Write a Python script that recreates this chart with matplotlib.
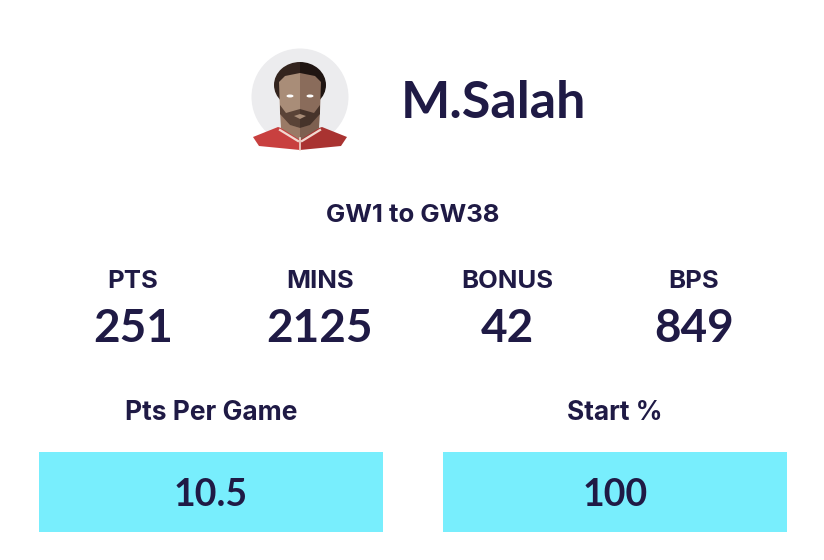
import matplotlib
matplotlib.use("Agg")
import matplotlib.pyplot as plt
from matplotlib.patches import Circle, Polygon, Rectangle, Ellipse

player = "M.Salah"
period = "GW1 to GW38"
stat_labels = ["PTS", "MINS", "BONUS", "BPS"]
stat_values = ["251", "2125", "42", "849"]
box_labels = ["Pts Per Game", "Start %"]
box_values = ["10.5", "100"]

NAVY = "#1f1a45"
CYAN = "#78eefd"
plt.rcParams["font.family"] = ["Lato", "DejaVu Sans"]
LABEL_FONT = ["Inter", "Lato", "DejaVu Sans"]

fig = plt.figure(figsize=(8.24, 5.60), dpi=100)
ax = fig.add_axes([0, 0, 1, 1])
ax.set_xlim(0, 824)
ax.set_ylim(560, 0)
ax.axis("off")

# avatar
ax.add_patch(Circle((300, 97), 48.5, fc="#ececee", ec="none", zorder=1))
def poly(pts, c, z=2):
    ax.add_patch(Polygon(pts, closed=True, fc=c, ec="none", zorder=z))
# shirt
poly([(253, 137), (278, 127), (300, 134), (300, 150), (259, 146)], "#c8403f")
poly([(347, 137), (322, 127), (300, 134), (300, 150), (341, 146)], "#a93331")
# neck
poly([(280, 112), (300, 112), (300, 140), (281, 128)], "#9a7a66", 3)
poly([(320, 112), (300, 112), (300, 140), (319, 128)], "#7d6050", 3)
# collar
ax.plot([280, 298], [130, 141], color="#f0d9d0", lw=1.6, zorder=4)
ax.plot([320, 302], [130, 141], color="#f0d9d0", lw=1.6, zorder=4)
ax.plot([300, 300], [138, 150], color="#f0d9d0", lw=1.2, zorder=4)
# hair
hl = Ellipse((300, 85), 52, 46, fc="#33241e", ec="none", zorder=4)
hr = Ellipse((300, 85), 52, 46, fc="#1f1512", ec="none", zorder=4)
ax.add_patch(hl)
ax.add_patch(hr)
hl.set_clip_path(Rectangle((270, 55), 30, 60, transform=ax.transData))
hr.set_clip_path(Rectangle((300, 55), 30, 60, transform=ax.transData))
# face
poly([(279, 82), (285, 76), (300, 73), (300, 128), (290, 125), (280, 112)], "#a98d78", 5)
poly([(321, 82), (315, 76), (300, 73), (300, 128), (310, 125), (320, 112)], "#8a6c5b", 5)
# beard
poly([(280, 105), (286, 113), (300, 109), (300, 128), (290, 125), (280, 114)], "#5a4337", 6)
poly([(320, 105), (314, 113), (300, 109), (300, 128), (310, 125), (320, 114)], "#46332a", 6)
poly([(294, 116), (300, 114), (306, 116), (300, 119)], "#a98d78", 7)
# eyes
ax.add_patch(Ellipse((290, 96), 7, 3, fc="white", ec="none", zorder=8))
ax.add_patch(Ellipse((310, 96), 7, 3, fc="white", ec="none", zorder=8))

ax.text(493, 104, player, fontsize=37.5, fontweight="bold", color=NAVY, ha="center", va="center")
ax.text(413, 215, period, fontsize=18.5, fontweight="bold", family=LABEL_FONT, color=NAVY, ha="center", va="center")

stat_x = [133, 320, 507, 694]
for x, lab, val in zip(stat_x, stat_labels, stat_values):
    ax.text(x, 281, lab, fontsize=18.5, fontweight="bold", family=LABEL_FONT, color=NAVY, ha="center", va="center")
    ax.text(x, 329, val, fontsize=33, fontweight="bold", color=NAVY, ha="center", va="center")

box_x = [39, 443]
box_w = 344
for x, lab, val in zip(box_x, box_labels, box_values):
    ax.text(x + box_w / 2, 413, lab, fontsize=19, fontweight="bold",
            family=LABEL_FONT, color=NAVY, ha="center", va="center")
    ax.add_patch(Rectangle((x, 452), box_w, 80, fc=CYAN, ec="none"))
    ax.text(x + box_w / 2, 495, val, fontsize=27, color=NAVY, fontweight="bold", ha="center", va="center")

fig.savefig("out.png", dpi=100, facecolor="white")
